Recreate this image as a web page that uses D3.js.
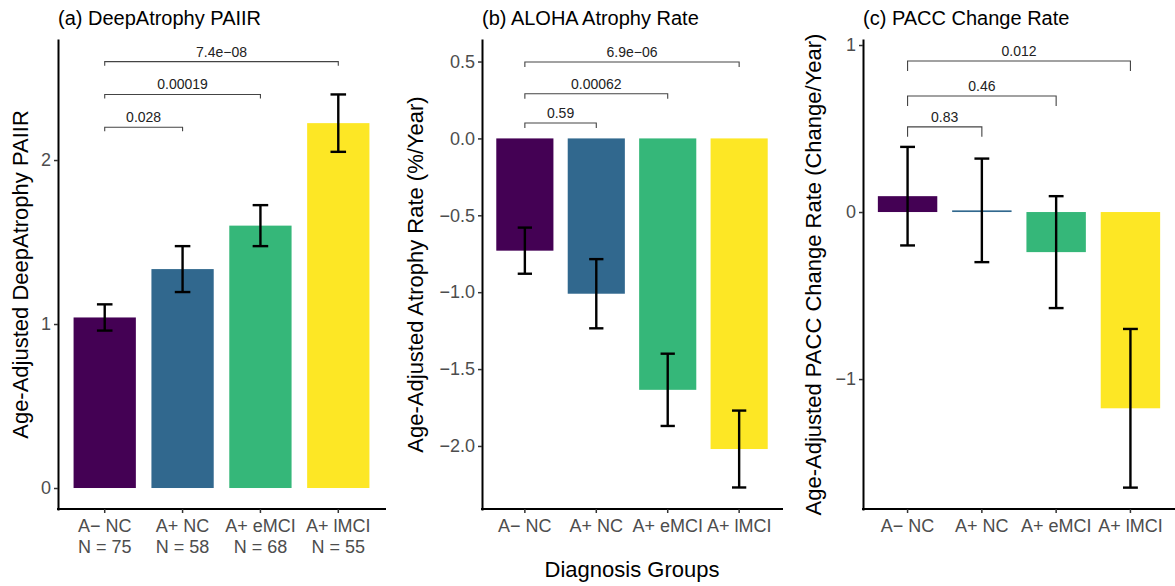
<!DOCTYPE html>
<html>
<head>
<meta charset="utf-8">
<script src="https://cdn.jsdelivr.net/npm/d3@7"></script>
<style>
	body { margin: 0; background: #fff; }
	svg { font-family: "Liberation Sans", Arial, sans-serif; }
	.tick text { fill: #4d4d4d; }
	.tick line { stroke: #333; stroke-width: 1.5; }
	.domain { stroke: #000; stroke-width: 2; stroke-linecap: square; }
	.err { stroke: #000; stroke-width: 2.4; }
	.bracket { fill: none; stroke: #444; stroke-width: 1.1; }
</style>
</head>
<body>
<div id="chart"></div>
<script>
let w = 1175
let h = 586

let groups = ["A\u2212 NC", "A+ NC", "A+ eMCI", "A+ lMCI"]
let nCounts = [75, 58, 68, 55]
let colors = ["#440154", "#31688e", "#35b779", "#fde725"]
let pairs = [[0, 1], [0, 2], [0, 3]]

// (a) DeepAtrophy PAIIR
let paiirMean = [1.04, 1.335, 1.60, 2.225]
let paiirSe = [0.08, 0.14, 0.125, 0.175]
let paiirP = ["0.028", "0.00019", "7.4e\u221208"]
let paiirBracketY = [2.20, 2.40, 2.60]
let paiirTicks = [0, 1, 2]

// (b) ALOHA atrophy rate
let alohaMean = [-0.73, -1.01, -1.635, -2.02]
let alohaSe = [0.15, 0.225, 0.235, 0.25]
let alohaP = ["0.59", "0.00062", "6.9e\u221206"]
let alohaBracketY = [0.10, 0.29, 0.497]
let alohaTicks = [0.5, 0, -0.5, -1, -1.5, -2]

// (c) PACC change rate
let paccMean = [0.095, 0.01, -0.24, -1.175]
let paccSe = [0.295, 0.31, 0.335, 0.475]
let paccP = ["0.83", "0.46", "0.012"]
let paccBracketY = [0.51, 0.695, 0.904]
let paccTicks = [1, 0, -1]

let plotTop = 40
let plotBottom = 509

let panels = [
	{ title: "(a) DeepAtrophy PAIIR", ylab: "Age-Adjusted DeepAtrophy PAIIR",
	  mean: paiirMean, se: paiirSe, p: paiirP, by: paiirBracketY, ticks: paiirTicks, fmt: "d",
	  domain: [-0.128, 2.732], left: 58, right: 385, ylabX: 28, tip: 0.025, showN: true },
	{ title: "(b) ALOHA Atrophy Rate", ylab: "Age-Adjusted Atrophy Rate (%/Year)",
	  mean: alohaMean, se: alohaSe, p: alohaP, by: alohaBracketY, ticks: alohaTicks, fmt: ".1f",
	  domain: [-2.41, 0.64], left: 482, right: 782, ylabX: 423, tip: 0.032, showN: false },
	{ title: "(c) PACC Change Rate", ylab: "Age-Adjusted PACC Change Rate (Change/Year)",
	  mean: paccMean, se: paccSe, p: paccP, by: paccBracketY, ticks: paccTicks, fmt: "d",
	  domain: [-1.778, 1.03], left: 863, right: 1175, ylabX: 821, tip: 0.06, showN: false }
]

let svg = d3.select("#chart")
	.append("svg")
	.attr("width", w)
	.attr("height", h)

panels.forEach(p => {
	let g = svg.append("g")
	let data = groups.map((name, i) => ({ name, i, mean: p.mean[i], se: p.se[i] }))

	let x = d3.scaleBand()
		.domain(groups)
		.range([p.left, p.right])
		.paddingInner(0.2)
		.paddingOuter(0.2)

	let y = d3.scaleLinear()
		.domain(p.domain)
		.range([plotBottom, plotTop])

	let cx = d => x(d.name) + x.bandwidth() / 2
	let cap = x.step() * 0.1

	// bars
	g.selectAll(".bar")
		.data(data)
		.join("rect")
		.attr("class", "bar")
		.attr("x", d => x(d.name))
		.attr("width", x.bandwidth())
		.attr("y", d => y(Math.max(0, d.mean)))
		.attr("height", d => Math.abs(y(d.mean) - y(0)))
		.attr("fill", (d, i) => colors[i])

	// error bars
	let eb = g.selectAll(".eb")
		.data(data)
		.join("g")
		.attr("class", "eb")
	eb.append("line").attr("class", "err")
		.attr("x1", cx).attr("x2", cx)
		.attr("y1", d => y(d.mean + d.se)).attr("y2", d => y(d.mean - d.se))
	eb.append("line").attr("class", "err")
		.attr("x1", d => cx(d) - cap).attr("x2", d => cx(d) + cap)
		.attr("y1", d => y(d.mean + d.se)).attr("y2", d => y(d.mean + d.se))
	eb.append("line").attr("class", "err")
		.attr("x1", d => cx(d) - cap).attr("x2", d => cx(d) + cap)
		.attr("y1", d => y(d.mean - d.se)).attr("y2", d => y(d.mean - d.se))

	// significance brackets
	pairs.forEach((pr, k) => {
		let xa = cx(data[pr[0]])
		let xb = cx(data[pr[1]])
		let yy = y(p.by[k])
		let yt = y(p.by[k] - p.tip)
		g.append("path")
			.attr("class", "bracket")
			.attr("d", `M${xa},${yt}V${yy}H${xb}V${yt}`)
		g.append("text")
			.attr("x", (xa + xb) / 2)
			.attr("y", yy - 5)
			.attr("text-anchor", "middle")
			.attr("font-size", 14)
			.attr("fill", "#222")
			.text(p.p[k])
	})

	// axes
	let yAxis = d3.axisLeft(y)
		.tickValues(p.ticks)
		.tickFormat(d3.format(p.fmt))
		.tickSize(4)
		.tickSizeOuter(0)
		.tickPadding(3)
	g.append("g")
		.attr("transform", "translate(" + p.left + ",0)")
		.call(yAxis)
		.call(a => a.selectAll("text").attr("font-size", 18))

	let xAxis = d3.axisBottom(x)
		.tickSize(4)
		.tickSizeOuter(0)
		.tickPadding(6)
	let xa = g.append("g")
		.attr("transform", "translate(0," + plotBottom + ")")
		.call(xAxis)
	xa.selectAll("text").attr("font-size", 18)
	if (p.showN) {
		xa.selectAll(".tick").append("text")
			.attr("fill", "#4d4d4d")
			.attr("font-size", 18)
			.attr("y", 44)
			.attr("text-anchor", "middle")
			.text((d, i) => "N = " + nCounts[i])
	}
	// redraw domain lines full length
	xa.select(".domain").attr("d", `M${p.left},0H${p.right}`)

	// titles
	g.append("text")
		.attr("x", p.left)
		.attr("y", 25)
		.attr("font-size", 20)
		.attr("fill", "#000")
		.text(p.title)

	g.append("text")
		.attr("transform", `translate(${p.ylabX},${(plotTop + plotBottom) / 2}) rotate(-90)`)
		.attr("text-anchor", "middle")
		.attr("font-size", 22)
		.attr("fill", "#000")
		.text(p.ylab)
})

svg.append("text")
	.attr("x", 632)
	.attr("y", 577)
	.attr("text-anchor", "middle")
	.attr("font-size", 22)
	.attr("fill", "#000")
	.text("Diagnosis Groups")
</script>
</body>
</html>
